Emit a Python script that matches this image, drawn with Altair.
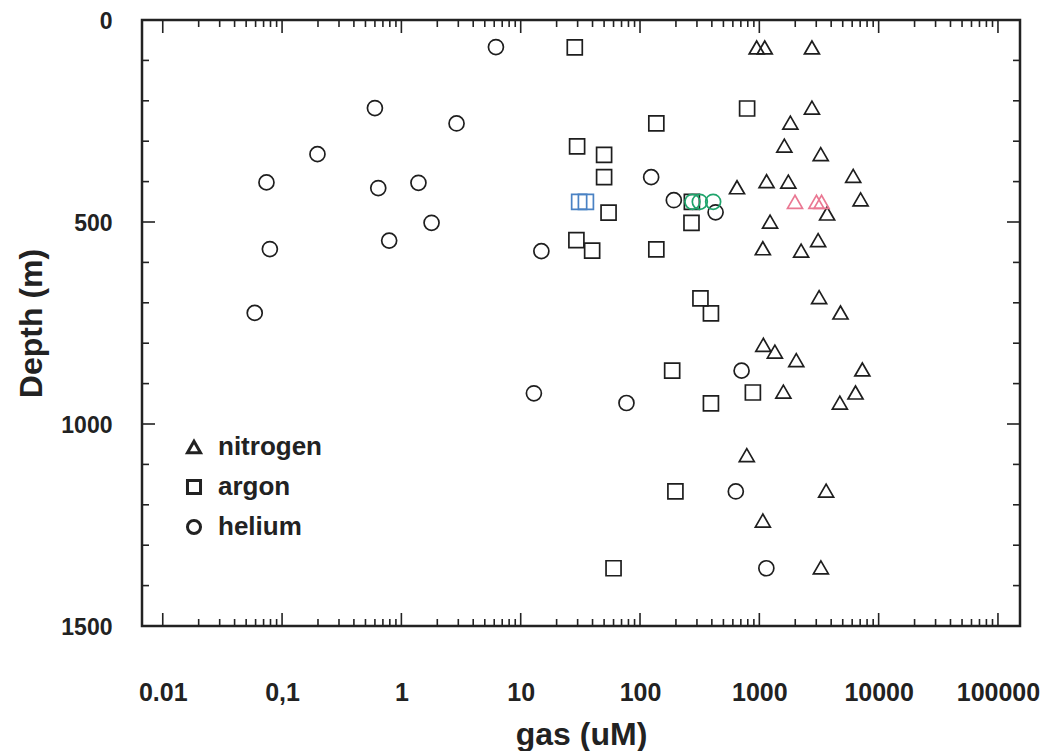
import altair as alt
import pandas as pd

# ---------------- data ----------------
# nitrogen (black triangles)
N2_GAS = [950, 1110, 2760, 2760, 1820, 1620, 3270, 6120, 650, 1150, 1750, 7060,
          3700, 1230, 1070, 2240, 3110, 3170, 4790, 1080, 1350, 2040, 7300, 1590,
          6400, 4730, 785, 3630, 1070, 3280]
N2_DEPTH = [68, 68, 68, 217, 254, 311, 332, 386, 414, 399, 400, 444,
            479, 499, 565, 571, 545, 686, 724, 804, 821, 842, 865, 920,
            922, 947, 1077, 1165, 1239, 1355]
# nitrogen highlighted (red triangles)
N2_RED_GAS = [1990, 3010, 3320]
N2_RED_DEPTH = [450, 450, 450]

# argon (black squares)
AR_GAS = [28.4, 790, 137, 29.7, 50, 50, 54.5, 270, 272, 29.3, 39.7, 137,
          321, 393, 186, 393, 883, 60, 198]
AR_DEPTH = [68, 219, 256, 313, 334, 389, 477, 502, 450, 545, 571, 568,
            689, 726, 868, 949, 922, 1357, 1167]
# argon highlighted (blue squares)
AR_BLUE_GAS = [30.9, 35.2]
AR_BLUE_DEPTH = [450, 450]

# helium (black circles)
HE_GAS = [6.2, 0.6, 2.9, 0.198, 0.074, 0.64, 1.39, 1.79, 0.79, 0.079, 14.9,
          0.059, 12.9, 77, 124, 192, 430, 710, 635, 1145]
HE_DEPTH = [67, 218, 256, 332, 402, 416, 403, 502, 546, 567, 572,
            725, 924, 948, 389, 446, 476, 868, 1167, 1357]
# helium highlighted (green circles)
HE_GREEN_GAS = [275, 317, 410]
HE_GREEN_DEPTH = [450, 450, 450]

SPECIES = ["nitrogen", "argon", "helium"]
SHAPES = ["triangle-up", "square", "circle"]
TINTS = ["black", "blue", "green", "red"]
TINT_COLORS = ["#1e1e1e", "#4a82c4", "#1fa46c", "#ea7893"]

# axis ticks / labels
X_DOMAIN = [0.0067, 153000]
X_MAJOR = [0.01, 0.1, 1, 10, 100, 1000, 10000, 100000]
X_LABELS = ["0.01", "0,1", "1", "10", "100", "1000", "10000", "100000"]
X_MINOR = [d * k for d in X_MAJOR[:-1] for k in range(2, 10)]
Y_MAJOR = [0, 500, 1000, 1500]
Y_MINOR = [100, 200, 300, 400, 600, 700, 800, 900, 1100, 1200, 1300, 1400]

# ---------------- build table ----------------
rows = []
def add(gs, ds, sp, tint):
    for g, d in zip(gs, ds):
        rows.append({"gas": g, "depth": d, "species": sp, "tint": tint})

add(N2_GAS, N2_DEPTH, "nitrogen", "black")
add(AR_GAS, AR_DEPTH, "argon", "black")
add(HE_GAS, HE_DEPTH, "helium", "black")
add(AR_BLUE_GAS, AR_BLUE_DEPTH, "argon", "blue")
add(HE_GREEN_GAS, HE_GREEN_DEPTH, "helium", "green")
add(N2_RED_GAS, N2_RED_DEPTH, "nitrogen", "red")
df = pd.DataFrame(rows)

W, H = 878, 606
FONT = "Liberation Sans"
XFONT = "Liberation Sans Narrow, Arial Narrow, Liberation Sans"
INK = "#222222"

xscale = alt.Scale(type="log", domain=X_DOMAIN, nice=False)
yscale = alt.Scale(domain=[0, 1500], reverse=True, nice=False, zero=False)

label_expr = " : ".join(
    f"datum.value == {v} ? '{l}'" for v, l in zip(X_MAJOR, X_LABELS)
) + " : ''"

x_axis = alt.Axis(values=X_MAJOR, labelExpr=label_expr, ticks=False, domain=False,
                  grid=False, labelPadding=54, labelFont=XFONT, labelFontSize=25,
                  labelFontWeight="bold", labelColor=INK, labelFlush=False,
                  title="gas (uM)", titleFont=FONT, titleFontSize=32,
                  titleFontWeight="bold", titleColor=INK, titlePadding=14)
y_axis = alt.Axis(values=Y_MAJOR, format="d", ticks=False, domain=False, grid=False,
                  labelPadding=30, labelFont=FONT, labelFontSize=23, labelOffset=1,
                  labelFontWeight="bold", labelColor=INK, labelFlush=False,
                  title="Depth (m)", titleFont=FONT, titleFontSize=32,
                  titleFontWeight="bold", titleColor=INK, titlePadding=12)

X_ENC = alt.X("gas:Q", scale=xscale, axis=x_axis)
Y_ENC = alt.Y("depth:Q", scale=yscale, axis=y_axis)

def xticks(vals, length):
    d = pd.DataFrame({"gas": vals})
    bottom = alt.Chart(d).mark_rule(color=INK, strokeWidth=1.6).encode(
        x=X_ENC, y=alt.value(H), y2=alt.value(H - length))
    top = alt.Chart(d).mark_rule(color=INK, strokeWidth=1.6).encode(
        x=X_ENC, y=alt.value(0), y2=alt.value(length))
    return [bottom, top]

def yticks(vals, length):
    d = pd.DataFrame({"depth": vals})
    left = alt.Chart(d).mark_rule(color=INK, strokeWidth=1.6).encode(
        y=Y_ENC, x=alt.value(0), x2=alt.value(length))
    right = alt.Chart(d).mark_rule(color=INK, strokeWidth=1.6).encode(
        y=Y_ENC, x=alt.value(W), x2=alt.value(W - length))
    return [left, right]

points = alt.Chart(df).mark_point(filled=False, strokeWidth=1.7, opacity=1, size=225).encode(
    x=X_ENC,
    y=Y_ENC,
    shape=alt.Shape("species:N", scale=alt.Scale(domain=SPECIES, range=SHAPES),
                    legend=alt.Legend(orient="none", legendX=39, legendY=414, title=None,
                                      labelFont=FONT, labelFontSize=26,
                                      labelFontWeight="bold", labelColor=INK,
                                      symbolSize=170, symbolStrokeWidth=3,
                                      symbolStrokeColor=INK, symbolFillColor="white",
                                      rowPadding=14, labelOffset=11, padding=0)),
    color=alt.Color("tint:N", scale=alt.Scale(domain=TINTS, range=TINT_COLORS), legend=None),
)

tick_layers = xticks(X_MAJOR, 13) + xticks(X_MINOR, 7) + yticks(Y_MAJOR, 13) + yticks(Y_MINOR, 7)

chart = alt.layer(points, *tick_layers).properties(
    width=W, height=H,
    autosize=alt.AutoSizeParams(type="none"),
    padding={"left": 134, "top": 12, "right": 22, "bottom": 140},
    background="white",
).configure_view(stroke=INK, strokeWidth=2.5)

chart.save("out.html", embed_options={"renderer": "svg", "actions": False})
